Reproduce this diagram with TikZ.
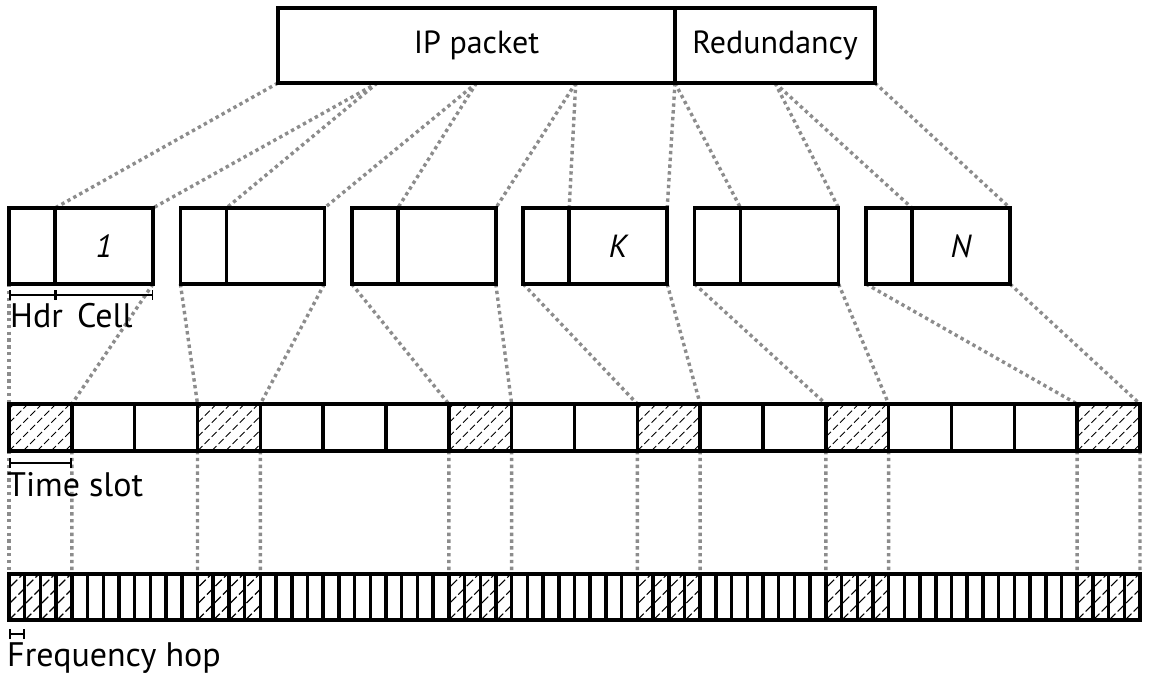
\documentclass[tikz,border=0pt]{standalone}
\usepackage{fontspec}
\setmainfont{PT Sans}
\usetikzlibrary{arrows.meta}
\pgfdeclarelayer{background}
\pgfsetlayers{background,main}
\begin{document}
\begin{tikzpicture}[x=1pt,y=-1pt,
  box/.style={draw, line width=3.5pt, inner sep=0pt, outer sep=0pt, font=\fontsize{32}{38}\selectfont},
  dots/.style={draw=black!45, line width=3.4pt, dash pattern=on 3.4pt off 3.4pt},
  lbl/.style={font=\fontsize{34}{40}\selectfont, inner sep=0pt, anchor=base west},
  dim/.style={line width=1.5pt, {Bar[width=10pt,line width=1.5pt]}-{Bar[width=10pt,line width=1.5pt]}},
  hatch/.style={line width=0.9pt, dash pattern=on 7pt off 3pt},
  hatchf/.style={line width=1.1pt, dash pattern=on 9pt off 3pt}]
\useasboundingbox (0,0) rectangle (1150,676);

% top packet
\node[box, minimum width=397, minimum height=75] (ip) at (476.5,45.5) {IP packet};
\node[box, minimum width=200, minimum height=75] (red) at (775,45.5) {Redundancy};
\coordinate (p0) at (278,83);
\coordinate (p1) at (377.25,83);
\coordinate (p2) at (476.5,83);
\coordinate (p3) at (575.75,83);
\coordinate (p4) at (675,83);
\coordinate (p5) at (775,83);
\coordinate (p6) at (875,83);

% cells
\foreach \k/\t in {0/1,1/{},2/{},3/K,4/{},5/N}{
  \node[box, minimum width=46, minimum height=76, anchor=west] (h\k) at ({9+171.4*\k},246) {};
  \node[box, minimum width=98, minimum height=76, anchor=west, font=\fontsize{32}{38}\selectfont\itshape] (c\k) at (h\k.east) {\t};
}

% time slots
\foreach \i in {0,...,17}{
  \node[box, minimum width=62.833, minimum height=47, anchor=west] (s\i) at ({9+62.833*\i},427.5) {};
}
% frequency hops
\foreach \i in {0,...,71}{
  \node[box, minimum width=15.708, minimum height=46, anchor=west] (f\i) at ({9+15.7083*\i},597) {};
}

\begin{pgfonlayer}{background}
  % hatching
  \foreach \j in {0,3,7,10,13,17}{
    \pgfmathtruncatemacro\fa{4*\j}
    \pgfmathtruncatemacro\fb{4*\j+3}
    \begin{scope}
      \clip (s\j.south west) rectangle (s\j.north east);
      \foreach \d in {-56,-42,...,70}
        \draw[hatch] ([xshift=\d pt]s\j.south west) -- ++(60,-60);
    \end{scope}
    \begin{scope}
      \clip (f\fa.south west) rectangle (f\fb.north east);
      \foreach \d in {-48,-32,...,70}
        \draw[hatchf] ([xshift=\d pt]f\fa.south west) -- ++(60,-60);
    \end{scope}
  }
  % packet to cells
  \foreach \k in {0,...,5}{
    \pgfmathtruncatemacro\kn{\k+1}
    \draw[dots] (p\k) -- (h\k.north east);
    \draw[dots] (p\kn) -- (c\k.north east);
  }
  % cells to slots to hops
  \foreach \k/\j in {0/0,1/3,2/7,3/10,4/13,5/17}{
    \pgfmathtruncatemacro\fa{4*\j}
    \pgfmathtruncatemacro\fb{4*\j+3}
    \draw[dots] (h\k.south west) -- (s\j.north west);
    \draw[dots] (c\k.south east) -- (s\j.north east);
    \draw[dots] (s\j.south west) -- (f\fa.north west);
    \draw[dots] (s\j.south east) -- (f\fb.north east);
  }
\end{pgfonlayer}

% dimensions and labels
\coordinate (hd0) at (9,295);
\coordinate (hd1) at (55,295);
\coordinate (hd2) at (153,295);
\draw[dim] (hd0) -- (hd1);
\draw[dim] (hd1) -- (hd2);
\node[lbl] (thdr) at (10,327) {Hdr};
\node[lbl] (tcell) at (77,327) {Cell};

\coordinate (ts0) at (9,463);
\coordinate (ts1) at (71.8,463);
\draw[dim] (ts0) -- (ts1);
\node[lbl] (tslot) at (7,496) {Time slot};

\coordinate (fh0) at (9,634);
\coordinate (fh1) at (24.7,634);
\draw[dim] (fh0) -- (fh1);
\node[lbl] (tfreq) at (7,666) {Frequency hop};
\end{tikzpicture}
\end{document}
